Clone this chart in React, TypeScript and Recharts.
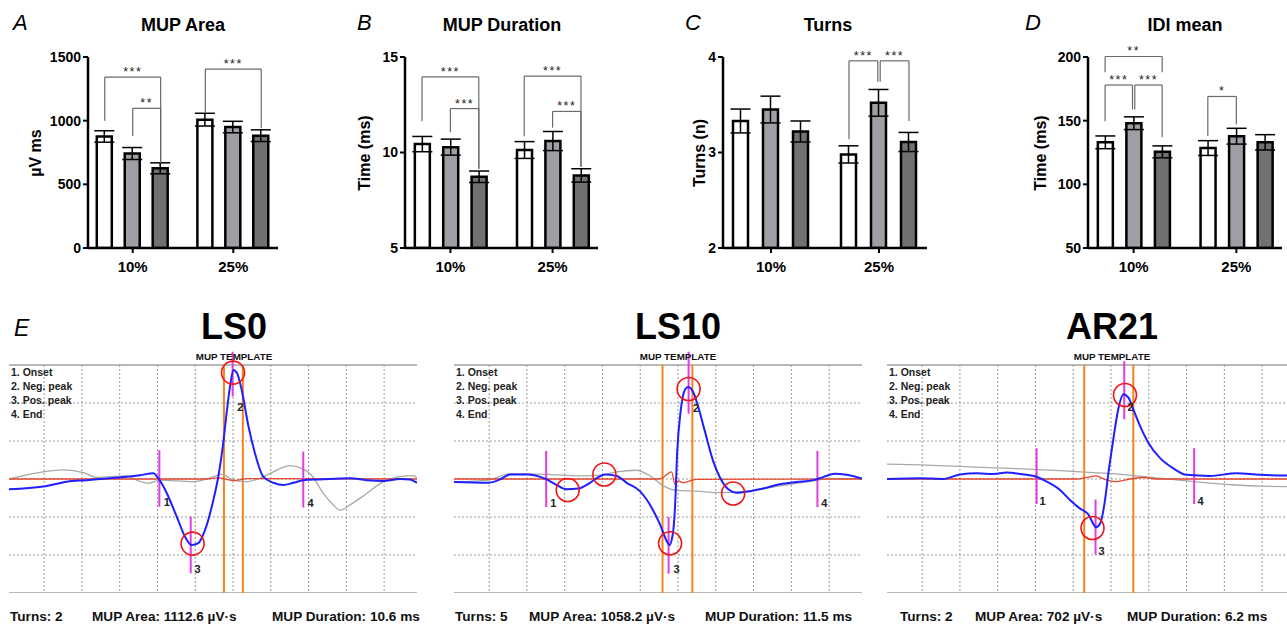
import React from 'react';
import {
  ComposedChart, Bar, Cell, ErrorBar, XAxis, YAxis, ReferenceLine, ReferenceDot,
  LineChart, Line, CartesianGrid,
} from 'recharts';

const FONT = '"Liberation Sans", Arial, sans-serif';

// ---- top row: bar charts ----
const groups = ['10%', '25%'];
const groupTicks = [2, 5.6];
const barX = [1, 2, 3, 4.6, 5.6, 6.6];
const barFills = ['#ffffff', '#9e9ea4', '#717171', '#ffffff', '#9e9ea4', '#717171'];

const areaMean = [876, 742, 626, 1008, 950, 882];
const areaErr = [45, 47, 43, 50, 45, 46];
const durMean = [10.44, 10.28, 8.73, 10.13, 10.6, 8.8];
const durErr = [0.4, 0.42, 0.3, 0.44, 0.5, 0.35];
const turnsMean = [3.33, 3.45, 3.22, 2.98, 3.52, 3.11];
const turnsErr = [0.125, 0.14, 0.11, 0.09, 0.14, 0.1];
const idiMean = [133, 148, 125.5, 128.5, 137.8, 133];
const idiErr = [5, 5, 4.7, 5.8, 6.2, 6];

type Bracket = { from: number; to: number; y: number; left: number; right: number; label: string };

const areaBrackets: Bracket[] = [
  { from: 1, to: 3, y: 1342, left: 1000, right: 670, label: '***' },
  { from: 2, to: 3, y: 1097, left: 880, right: 670, label: '**' },
  { from: 4.6, to: 6.6, y: 1405, left: 1066, right: 940, label: '***' },
];
const durBrackets: Bracket[] = [
  { from: 1, to: 3, y: 13.96, left: 11.63, right: 9.15, label: '***' },
  { from: 2, to: 3, y: 12.3, left: 11.06, right: 9.15, label: '***' },
  { from: 4.6, to: 6.6, y: 14.0, left: 10.85, right: 9.25, label: '***' },
  { from: 5.6, to: 6.6, y: 12.15, left: 11.3, right: 9.25, label: '***' },
];
const turnsBrackets: Bracket[] = [
  { from: 4.6, to: 5.56, y: 3.96, left: 3.14, right: 3.74, label: '***' },
  { from: 5.64, to: 6.6, y: 3.96, left: 3.74, right: 3.33, label: '***' },
];
const idiBrackets: Bracket[] = [
  { from: 1, to: 3, y: 200.4, left: 188, right: 188, label: '**' },
  { from: 1, to: 1.96, y: 178, left: 149.5, right: 158.8, label: '***' },
  { from: 2.04, to: 3, y: 178, left: 158.8, right: 137, label: '***' },
  { from: 4.6, to: 5.6, y: 169, left: 138, right: 147, label: '*' },
];

const barPanels = [
  { letter: 'A', title: 'MUP Area', yLabel: 'µV ms', domain: [0, 1500], ticks: [0, 500, 1000, 1500], mean: areaMean, err: areaErr, brackets: areaBrackets, plotLeft: 88, plotWidth: 190, letterX: 13, titleX: 183, yLabelX: 36 },
  { letter: 'B', title: 'MUP Duration', yLabel: 'Time (ms)', domain: [5, 15], ticks: [5, 10, 15], mean: durMean, err: durErr, brackets: durBrackets, plotLeft: 405, plotWidth: 193, letterX: 357, titleX: 502, yLabelX: 365 },
  { letter: 'C', title: 'Turns', yLabel: 'Turns (n)', domain: [2, 4], ticks: [2, 3, 4], mean: turnsMean, err: turnsErr, brackets: turnsBrackets, plotLeft: 723, plotWidth: 204, letterX: 685, titleX: 828, yLabelX: 700 },
  { letter: 'D', title: 'IDI mean', yLabel: 'Time (ms)', domain: [50, 200], ticks: [50, 100, 150, 200], mean: idiMean, err: idiErr, brackets: idiBrackets, plotLeft: 1088, plotWidth: 194, letterX: 1025, titleX: 1185, yLabelX: 1041 },
];

// ---- bottom row: MUP templates (x in grid divisions, y in grid divisions) ----
const ls0Blue = [[-0.93, -0.27], [-0.02, -0.2], [0.6, -0.07], [1.13, -0.03], [1.48, 0], [2.19, 0.06], [2.54, 0.1], [2.89, 0.15], [3.02, 0.02], [3.25, -0.38], [3.51, -0.99], [3.73, -1.52], [3.91, -1.74], [4.08, -1.69], [4.26, -1.34], [4.48, -0.55], [4.61, 0.06], [4.74, 0.94], [4.83, 1.73], [4.92, 2.43], [5.01, 2.87], [5.11, 2.78], [5.23, 2.34], [5.41, 1.38], [5.58, 0.68], [5.8, 0.06], [6.07, -0.1], [6.33, -0.16], [6.6, -0.1], [6.86, -0.03], [7.3, -0.01], [8.1, 0.02], [8.54, -0.03], [8.98, -0.05], [9.42, 0], [9.68, -0.01], [9.87, -0.1]];
const ls0Grey = [[-0.93, 0], [-0.02, 0.19], [0.51, 0.24], [1.04, 0.17], [1.39, 0.04], [2.19, 0.08], [2.45, -0.03], [2.76, -0.11], [3.07, -0.03], [3.95, -0.07], [4.48, 0.06], [4.7, 0.13], [5.01, -0.03], [5.36, -0.07], [5.71, 0.02], [6.07, 0.19], [6.51, 0.35], [6.82, 0.28], [7.08, 0.1], [7.39, -0.38], [7.65, -0.68], [7.83, -0.82], [8.1, -0.68], [8.54, -0.38], [8.98, -0.07], [9.42, 0.06], [9.77, 0.09], [9.87, 0.02]];
const ls0Red = [[-0.93, 0], [4.3, 0], [4.6, 0.03], [5.0, -0.04], [5.4, 0.01], [9.87, 0]];

const ls10Blue = [[-0.93, -0.08], [-0.02, -0.1], [0.29, -0.01], [0.56, 0.12], [1.0, 0.12], [1.48, 0.01], [1.79, -0.16], [2.05, -0.27], [2.36, -0.25], [2.67, -0.1], [2.89, 0.05], [3.07, 0.12], [3.38, 0.08], [3.64, -0.1], [3.99, -0.32], [4.3, -0.75], [4.52, -1.19], [4.7, -1.63], [4.77, -1.74], [4.86, -1.46], [4.92, -0.75], [4.98, 0.74], [5.07, 1.79], [5.19, 2.36], [5.27, 2.42], [5.41, 2.27], [5.54, 1.88], [5.71, 1.26], [5.93, 0.47], [6.11, 0.04], [6.33, -0.27], [6.55, -0.36], [6.9, -0.32], [7.26, -0.25], [7.7, -0.14], [8.14, -0.08], [8.58, -0.03], [8.84, 0.05], [9.15, 0.14], [9.46, 0.11], [9.87, 0.01]];
const ls10Grey = [[-0.93, -0.08], [-0.02, -0.03], [0.56, 0.14], [1.53, 0.12], [2.41, 0.08], [3.02, 0.11], [3.38, 0.19], [3.9, 0.23], [4.26, 0.08], [4.61, -0.18], [4.96, -0.3], [5.49, -0.32], [6.02, -0.36], [6.82, -0.32], [7.7, -0.18], [8.58, -0.05], [9.02, 0.01], [9.87, 0.01]];
const ls10Red = [[-0.93, 0], [4.5, 0], [4.61, 0.04], [4.7, 0.12], [4.83, 0.19], [4.92, -0.14], [5.01, -0.05], [5.14, -0.1], [5.32, -0.05], [5.49, -0.01], [9.87, 0]];

const ar21Blue = [[-0.93, 0], [-0.05, 0.02], [0.56, 0], [1.0, 0.12], [1.45, 0.15], [1.89, 0.13], [2.24, 0.17], [2.59, 0.13], [3.02, 0.06], [3.3, -0.07], [3.65, -0.29], [3.92, -0.56], [4.18, -0.78], [4.4, -0.93], [4.53, -1.18], [4.6, -1.27], [4.71, -1.18], [4.84, -0.56], [4.93, 0.15], [5.06, 1.04], [5.19, 1.83], [5.33, 2.23], [5.46, 2.14], [5.59, 1.83], [5.77, 1.39], [5.99, 0.95], [6.3, 0.55], [6.65, 0.28], [7.0, 0.11], [7.62, 0.08], [8.32, 0.15], [8.94, 0.11], [9.87, 0.09]];
const ar21Grey = [[-0.93, 0.39], [-0.05, 0.37], [1.0, 0.33], [2.33, 0.28], [3.65, 0.22], [4.53, 0.17], [5.41, 0.11], [6.3, 0.02], [7.18, -0.07], [8.06, -0.14], [8.94, -0.19], [9.87, -0.2]];
const ar21Red = [[-0.93, 0], [4.1, 0], [4.36, 0.04], [4.58, 0.08], [4.89, -0.03], [5.15, -0.07], [5.5, 0], [5.86, 0.04], [6.2, 0], [9.87, 0]];

type Marker = { x: number; y1: number; y2: number; n: string; lx: number; ly: number };

const ls0Markers: Marker[] = [
  { x: 3.05, y1: 0.76, y2: -0.73, n: '1', lx: 3.25, ly: -0.6 },
  { x: 4.99, y1: 3.35, y2: 2.17, n: '2', lx: 5.19, ly: 1.89 },
  { x: 3.88, y1: -0.99, y2: -2.48, n: '3', lx: 4.06, ly: -2.38 },
  { x: 6.86, y1: 0.72, y2: -0.75, n: '4', lx: 7.05, ly: -0.64 },
];
const ls10Markers: Marker[] = [
  { x: 1.51, y1: 0.74, y2: -0.74, n: '1', lx: 1.7, ly: -0.64 },
  { x: 5.28, y1: 3.35, y2: 1.72, n: '2', lx: 5.48, ly: 1.86 },
  { x: 4.75, y1: -1.0, y2: -2.49, n: '3', lx: 4.96, ly: -2.38 },
  { x: 8.69, y1: 0.74, y2: -0.74, n: '4', lx: 8.87, ly: -0.64 },
];
const ar21Markers: Marker[] = [
  { x: 3.03, y1: 0.81, y2: -0.66, n: '1', lx: 3.19, ly: -0.58 },
  { x: 5.35, y1: 3.1, y2: 1.57, n: '2', lx: 5.52, ly: 1.88 },
  { x: 4.59, y1: -0.54, y2: -1.99, n: '3', lx: 4.75, ly: -1.9 },
  { x: 7.2, y1: 0.81, y2: -0.66, n: '4', lx: 7.37, ly: -0.58 },
];

const ls0Orange = [4.76, 5.26];
const ls10Orange = [4.59, 5.38];
const ar21Orange = [4.29, 5.59];

const ls0Circles = [[5.0, 2.8], [3.93, -1.7]];
const ls10Circles = [[2.08, -0.29], [3.05, 0.12], [4.79, -1.69], [5.28, 2.37], [6.46, -0.38]];
const ar21Circles = [[5.37, 2.21], [4.51, -1.29]];

const legendLines = ['1. Onset', '2. Neg. peak', '3. Pos. peak', '4. End'];
const gridX = [0, 1, 2, 3, 4, 5, 6, 7, 8, 9];
const gridY = [-2, -1, 0, 1, 2];

const wavePanels = [
  { title: 'LS0', left: 9, blue: ls0Blue, grey: ls0Grey, red: ls0Red, markers: ls0Markers, orange: ls0Orange, circles: ls0Circles, stats: ['Turns: 2', 'MUP Area: 1112.6 µV·s', 'MUP Duration: 10.6 ms'], statX: [10, 92, 272], titleX: 234 },
  { title: 'LS10', left: 454, blue: ls10Blue, grey: ls10Grey, red: ls10Red, markers: ls10Markers, orange: ls10Orange, circles: ls10Circles, stats: ['Turns: 5', 'MUP Area: 1058.2 µV·s', 'MUP Duration: 11.5 ms'], statX: [455, 529, 705], titleX: 678 },
  { title: 'AR21', left: 887, blue: ar21Blue, grey: ar21Grey, red: ar21Red, markers: ar21Markers, orange: ar21Orange, circles: ar21Circles, stats: ['Turns: 2', 'MUP Area: 702 µV·s', 'MUP Duration: 6.2 ms'], statX: [900, 975, 1127], titleX: 1112 },
];

const pts = (arr: number[][]) => arr.map(([x, y]) => ({ x, y }));

const abs = (left: number, top: number, extra: React.CSSProperties = {}): React.CSSProperties => ({
  position: 'absolute', left, top, fontFamily: FONT, color: '#000', whiteSpace: 'nowrap', ...extra,
});

const BarPanel = ({ p }: { p: typeof barPanels[number] }) => {
  const data = barX.map((x, i) => ({ x, v: p.mean[i], e: p.err[i] }));
  const yW = 60;
  const mTop = 22;
  return (
    <>
      <div style={abs(p.letterX, 10, { fontSize: 22, fontStyle: 'italic', lineHeight: '26px' })}>{p.letter}</div>
      <div style={abs(p.titleX - 100, 14, { width: 200, textAlign: 'center', fontSize: 18, fontWeight: 700, lineHeight: '22px' })}>{p.title}</div>
      <div style={abs(p.yLabelX - 60, 143, { width: 120, textAlign: 'center', fontSize: 16, fontWeight: 700, lineHeight: '20px', transform: 'rotate(-90deg)' })}>{p.yLabel}</div>
      <div style={{ position: 'absolute', left: p.plotLeft - yW, top: 57 - mTop }}>
        <ComposedChart width={yW + p.plotWidth + 6} height={mTop + 191 + 36} data={data} margin={{ top: mTop, right: 6, bottom: 0, left: 0 }}>
          <XAxis type="number" dataKey="x" domain={[0.4, 7.2]} ticks={groupTicks} allowDataOverflow
            tickFormatter={(v: number) => groups[groupTicks.indexOf(v)]} height={36} tickSize={5} tickMargin={8}
            axisLine={{ stroke: '#000', strokeWidth: 2.5 }} tickLine={{ stroke: '#000', strokeWidth: 2 }}
            tick={{ fill: '#000', fontSize: 15, fontWeight: 700, fontFamily: FONT }} />
          <YAxis type="number" domain={p.domain} ticks={p.ticks} interval={0} width={yW} tickSize={5} allowDataOverflow
            axisLine={{ stroke: '#000', strokeWidth: 2.5 }} tickLine={{ stroke: '#000', strokeWidth: 2 }}
            tick={{ fill: '#000', fontSize: 14, fontWeight: 700, fontFamily: FONT }} />
          <Bar dataKey="v" barSize={15} stroke="#000" strokeWidth={2.5} isAnimationActive={false}>
            {data.map((d, i) => <Cell key={i} fill={barFills[i]} />)}
            <ErrorBar dataKey="e" width={10} stroke="#000" strokeWidth={1.5} direction="y" />
          </Bar>
          {p.brackets.flatMap((b, i) => [
            <ReferenceLine key={`l${i}`} segment={[{ x: b.from, y: b.left }, { x: b.from, y: b.y }]} stroke="#6a6a6a" strokeWidth={1.2} ifOverflow="visible" />,
            <ReferenceLine key={`t${i}`} segment={[{ x: b.from, y: b.y }, { x: b.to, y: b.y }]} stroke="#6a6a6a" strokeWidth={1.2} ifOverflow="visible" />,
            <ReferenceLine key={`r${i}`} segment={[{ x: b.to, y: b.y }, { x: b.to, y: b.right }]} stroke="#6a6a6a" strokeWidth={1.2} ifOverflow="visible" />,
            <ReferenceDot key={`s${i}`} x={(b.from + b.to) / 2} y={b.y} r={1} fill="none" stroke="none" ifOverflow="visible"
              label={{ value: b.label, position: 'top', offset: 0, fontSize: 12.5, letterSpacing: 1.5, fill: '#222', stroke: 'none', fontFamily: FONT }} />,
          ])}
        </ComposedChart>
      </div>
    </>
  );
};

const WavePanel = ({ p, first }: { p: typeof wavePanels[number]; first: boolean }) => {
  const top = 15;
  return (
    <>
      {first && <div style={abs(14, 314, { fontSize: 23, fontStyle: 'italic', lineHeight: '28px' })}>E</div>}
      <div style={abs(p.titleX - 100, 306, { width: 200, textAlign: 'center', fontSize: 36, fontWeight: 700, lineHeight: '42px' })}>{p.title}</div>
      <div style={{ position: 'absolute', left: p.left, top: 365 - top }}>
        <LineChart width={408} height={top + 228} data={pts(p.blue)} margin={{ top, right: 0, bottom: 0, left: 0 }}>
          <XAxis type="number" dataKey="x" domain={[-0.93, 9.87]} hide allowDataOverflow />
          <YAxis type="number" domain={[-3, 3]} hide allowDataOverflow />
          <CartesianGrid horizontalValues={gridY} verticalValues={gridX} stroke="#9a9a9a" strokeDasharray="2 2" />
          <ReferenceLine y={3} stroke="#a0a0a0" strokeWidth={1.5} />
          <ReferenceLine y={-3} stroke="#a0a0a0" strokeWidth={1.5} />
          {p.orange.map((x, i) => <ReferenceLine key={`o${i}`} x={x} stroke="#f5821f" strokeWidth={2} />)}
          <Line data={pts(p.grey)} dataKey="y" type="monotone" stroke="#a8a8a8" strokeWidth={1.3} dot={false} isAnimationActive={false} />
          <Line data={pts(p.red)} dataKey="y" type="monotone" stroke="#e8462e" strokeWidth={1.3} dot={false} isAnimationActive={false} />
          {p.markers.map((m, i) => (
            <ReferenceLine key={`m${i}`} segment={[{ x: m.x, y: m.y1 }, { x: m.x, y: m.y2 }]} stroke="#e33ce3" strokeWidth={2} ifOverflow="visible" />
          ))}
          <Line dataKey="y" type="monotone" stroke="#1f1fff" strokeWidth={2} dot={false} isAnimationActive={false} />
          {p.circles.map(([x, y], i) => (
            <ReferenceDot key={`c${i}`} x={x} y={y} r={11.5} fill="none" stroke="#f01414" strokeWidth={1.6} ifOverflow="visible" />
          ))}
          {p.markers.map((m, i) => (
            <ReferenceDot key={`n${i}`} x={m.lx} y={m.ly} r={1} fill="none" stroke="none" ifOverflow="visible"
              label={{ value: m.n, position: 'center', fontSize: 11, fontWeight: 700, fill: '#222', fontFamily: FONT }} />
          ))}
        </LineChart>
      </div>
      <div style={abs(p.titleX - 100, 351, { width: 200, textAlign: 'center', fontSize: 9.8, fontWeight: 700, lineHeight: '12px', color: '#111' })}>MUP TEMPLATE</div>
      {legendLines.map((t, i) => (
        <div key={t} style={abs(p.left + 2, 366 + i * 14, { fontSize: 10.5, fontWeight: 700, lineHeight: '12px', color: '#222' })}>{t}</div>
      ))}
      {p.stats.map((t, i) => (
        <div key={t} style={abs(p.statX[i], 608, { fontSize: 13.6, fontWeight: 700, lineHeight: '18px', color: '#111' })}>{t}</div>
      ))}
    </>
  );
};

export default function App() {
  return (
    <div style={{ position: 'absolute', left: 0, top: 0, width: 1287, height: 625, overflow: 'hidden', background: '#fff' }}>
      {barPanels.map((p) => <BarPanel key={p.letter} p={p} />)}
      {wavePanels.map((p, i) => <WavePanel key={p.title} p={p} first={i === 0} />)}
    </div>
  );
}
